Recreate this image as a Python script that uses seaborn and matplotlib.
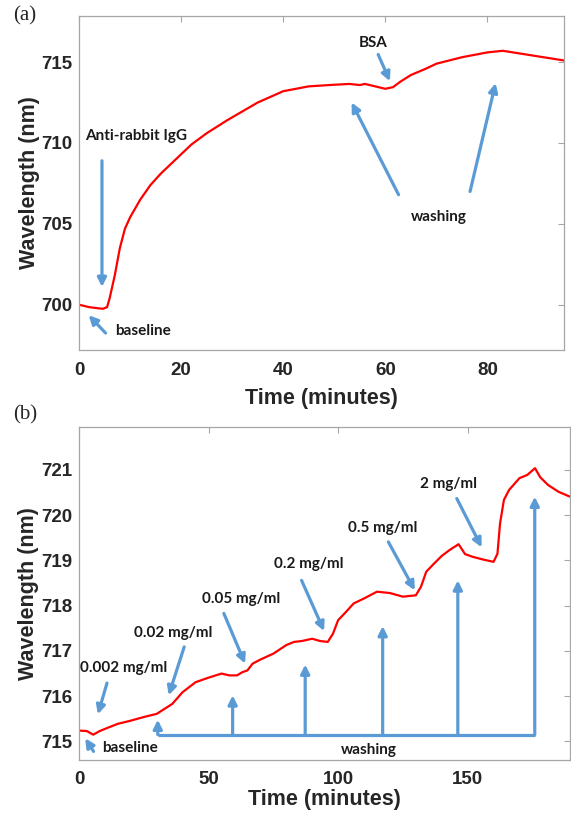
import matplotlib
matplotlib.use("Agg")
import matplotlib.pyplot as plt
import numpy as np
import pandas as pd
import seaborn as sns

# panel (a): binding of anti-rabbit IgG, then BSA
time_a = [0, 2, 4, 4.7, 5.5, 6, 7, 8, 9, 10, 12, 14, 16, 19, 22, 25, 29, 35,
          40, 45, 50, 53, 55, 56, 58, 60, 61.5, 63, 65, 68, 70, 75, 80, 83,
          86, 90, 95]
wl_a = [700.0, 699.85, 699.77, 699.75, 699.85, 700.4, 701.8, 703.5, 704.7,
        705.4, 706.5, 707.4, 708.1, 709.0, 709.9, 710.6, 711.4, 712.5, 713.2,
        713.5, 713.6, 713.65, 713.58, 713.65, 713.5, 713.35, 713.45, 713.8,
        714.2, 714.6, 714.9, 715.3, 715.6, 715.7, 715.55, 715.35, 715.1]

# panel (b): concentration series
time_b = [0, 3, 5.5, 8, 11, 15, 20, 25, 30, 33, 36, 40, 45, 50, 55, 58, 61, 63,
          65, 67, 70, 75, 80, 83, 86, 90, 93, 96, 98, 100, 103, 106, 110, 115,
          120, 125, 130, 132, 134, 137, 140, 143, 146.5, 149, 152, 156, 160,
          161.5, 162.5, 164, 166, 170, 173, 176, 178, 181, 185, 189.5]
wl_b = [715.24, 715.23, 715.15, 715.23, 715.30, 715.39, 715.46, 715.54, 715.61,
        715.72, 715.83, 716.09, 716.31, 716.41, 716.50, 716.46, 716.46, 716.53,
        716.57, 716.72, 716.81, 716.94, 717.13, 717.20, 717.22, 717.27, 717.22,
        717.20, 717.38, 717.68, 717.86, 718.05, 718.16, 718.31, 718.28, 718.20,
        718.23, 718.42, 718.75, 718.93, 719.10, 719.23, 719.36, 719.14, 719.08,
        719.02, 718.97, 719.15, 719.82, 720.34, 720.56, 720.82, 720.89, 721.04,
        720.84, 720.67, 720.52, 720.41]

# annotations: (text, text x, text y, alignment) and arrow (start, end)
labels_a = ["Anti-rabbit IgG", "baseline", "BSA", "washing"]
label_pos_a = [(1.1, 710.4, "left"), (7.0, 698.35, "left"),
               (57.6, 716.2, "center"), (70.4, 705.4, "center")]
arrows_a = [((4.5, 708.9), (4.5, 701.1)), ((5.2, 698.25), (1.9, 699.35)),
            ((58.6, 715.47), (60.9, 713.82)), ((62.6, 706.8), (53.4, 712.5)),
            ((76.6, 707.0), (81.6, 713.7))]

labels_b = ["0.002 mg/ml", "0.02 mg/ml", "0.05 mg/ml", "0.2 mg/ml",
            "0.5 mg/ml", "2 mg/ml", "baseline", "washing"]
label_pos_b = [(17.4, 716.63, "center"), (36.3, 717.4, "center"),
               (62.4, 718.14, "center"), (88.6, 718.93, "center"),
               (117.3, 719.72, "center"), (142.8, 720.7, "center"),
               (9.1, 714.86, "left"), (112, 714.8, "center")]
arrows_b = [((10.8, 716.29), (7.3, 715.6)), ((40.6, 717.09), (34.6, 716.02)),
            ((55.9, 717.83), (64.1, 716.72)), ((85.9, 718.56), (94.6, 717.44)),
            ((119.4, 719.41), (129.6, 718.34)), ((145.8, 720.37), (155.4, 719.29)),
            ((5.6, 714.78), (2.4, 715.07))]
wash_base = 715.15
wash_times = [30.4, 59.3, 87.3, 117.2, 146.2, 175.9]
wash_tips = [715.48, 716.02, 716.7, 717.55, 718.56, 720.41]

RED = "#ff0000"
BLUE = "#5b9bd5"


def style_axes(ax, xpad, labelpad):
    for s in ax.spines.values():
        s.set_visible(True)
        s.set_color("#a6a6a6")
        s.set_linewidth(0.9)
    ax.tick_params(direction="in", length=4, width=0.8, color="#a6a6a6",
                   top=True, right=True, labelsize=13.5, labelcolor="#262626")
    ax.tick_params(axis="x", pad=xpad)
    ax.tick_params(axis="y", pad=5)
    for lab in ax.get_xticklabels() + ax.get_yticklabels():
        lab.set_fontweight("bold")
    ax.set_xlabel("Time (minutes)", fontsize=15.5, fontweight="bold",
                  color="#262626", labelpad=labelpad)
    ax.set_ylabel("Wavelength (nm)", fontsize=15.5, fontweight="bold",
                  color="#262626", labelpad=1)


def arrow(ax, start, end):
    ax.annotate("", xy=end, xytext=start,
                arrowprops=dict(arrowstyle="-|>", color=BLUE, lw=2.3,
                                mutation_scale=13, shrinkA=0, shrinkB=0))


def note(ax, text, x, y, ha):
    ax.text(x, y, text, ha=ha, va="center", fontsize=11, fontweight="bold",
            family="Lato", color="#1a1a1a")


sns.set_style("white")
plt.rcParams["font.family"] = ["Liberation Sans", "DejaVu Sans"]

fig = plt.figure(figsize=(5.71, 8.18), dpi=100)
ax_a = fig.add_axes([79 / 571, 1 - 350 / 818, 485 / 571, 334 / 818])
ax_b = fig.add_axes([79 / 571, 1 - 760 / 818, 491 / 571, 333 / 818])

df_a = pd.DataFrame({"time": time_a, "wl": wl_a})
df_b = pd.DataFrame({"time": time_b, "wl": wl_b})

sns.lineplot(data=df_a, x="time", y="wl", ax=ax_a, color=RED, lw=1.6)
sns.lineplot(data=df_b, x="time", y="wl", ax=ax_b, color=RED, lw=1.6)

ax_a.set_xlim(0, 95)
ax_a.set_ylim(697.2, 717.85)
ax_a.set_xticks([0, 20, 40, 60, 80])
ax_a.set_yticks([700, 705, 710, 715])

ax_b.set_xlim(0, 189.5)
ax_b.set_ylim(714.59, 721.95)
ax_b.set_xticks([0, 50, 100, 150])
ax_b.set_yticks([715, 716, 717, 718, 719, 720, 721])

style_axes(ax_a, 9, 6)
style_axes(ax_b, 8, 1)

for text, (x, y, ha) in zip(labels_a, label_pos_a):
    note(ax_a, text, x, y, ha)
for start, end in arrows_a:
    arrow(ax_a, start, end)

for text, (x, y, ha) in zip(labels_b, label_pos_b):
    note(ax_b, text, x, y, ha)
for start, end in arrows_b:
    arrow(ax_b, start, end)

ax_b.plot([wash_times[0], wash_times[-1]], [wash_base, wash_base],
          color=BLUE, lw=2.3, solid_capstyle="butt")
for t, tip in zip(wash_times, wash_tips):
    arrow(ax_b, (t, wash_base), (t, tip))

fig.text(25 / 571, 1 - 16 / 818, "(a)", family="Liberation Serif", fontsize=15,
         ha="center", va="center")
fig.text(25 / 571, 1 - 415 / 818, "(b)", family="Liberation Serif", fontsize=15,
         ha="center", va="center")

fig.savefig("out.png", dpi=100)
